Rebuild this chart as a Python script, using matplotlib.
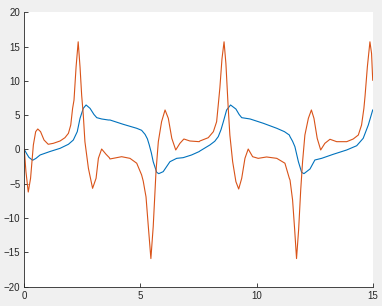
"""
plot.py
-------
Two periodic signals (position in blue, its rate in orange) over t = 0..15,
drawn in the MATLAB default look.
"""

import matplotlib
matplotlib.use("Agg")
import matplotlib.pyplot as plt

# ── Data ───────────────────────────────────────────────────────────────────────
t_blue = [0.0, 0.1, 0.2, 0.36, 0.5, 0.68, 1.1, 1.54, 1.9, 2.11, 2.28, 2.4, 2.54,
          2.66, 2.83, 3.0, 3.12, 3.33, 3.62, 3.69, 4.26, 4.84, 5.05, 5.2, 5.3,
          5.38, 5.47, 5.55, 5.7, 5.79, 5.98, 6.27, 6.56, 6.84, 7.2, 7.53, 7.56,
          7.99, 8.2, 8.35, 8.47, 8.57, 8.71, 8.88, 9.11, 9.25, 9.36, 9.72, 10.29,
          10.87, 11.2, 11.41, 11.44, 11.55, 11.65, 11.8, 11.94, 12.04, 12.3,
          12.51, 12.8, 13.3, 13.88, 14.31, 14.59, 14.81, 15.0]
y_blue = [0.0, -0.6, -1.15, -1.57, -1.3, -0.8, -0.3, 0.17, 0.76, 1.38, 2.6, 4.55,
          6.0, 6.49, 6.0, 5.1, 4.64, 4.45, 4.3, 4.3, 3.67, 3.09, 2.8, 2.2, 1.55,
          0.66, -0.5, -1.78, -3.33, -3.52, -3.23, -1.78, -1.29, -1.19, -0.8, -0.3,
          -0.22, 0.66, 1.2, 1.87, 2.9, 4.05, 5.76, 6.49, 5.9, 5.1, 4.64, 4.45, 3.82,
          3.09, 2.6, 2.11, 1.87, 1.2, 0.41, -1.78, -3.33, -3.52, -2.84, -1.53,
          -1.29, -0.7, -0.07, 0.55, 1.63, 3.57, 5.76]

t_orange = [0.0, 0.07, 0.17, 0.27, 0.39, 0.49, 0.58, 0.7, 0.85, 1.03, 1.25, 1.54,
            1.75, 1.9, 2.0, 2.08, 2.14, 2.23, 2.32, 2.4, 2.47, 2.54, 2.61, 2.76,
            2.94, 3.09, 3.19, 3.33, 3.52, 3.66, 3.69, 4.19, 4.55, 4.84, 5.05, 5.12,
            5.2, 5.24, 5.34, 5.45, 5.55, 5.63, 5.67, 5.77, 5.91, 6.06, 6.2, 6.35,
            6.52, 6.7, 6.87, 7.13, 7.53, 7.56, 7.92, 8.14, 8.28, 8.35, 8.42, 8.51,
            8.6, 8.68, 8.78, 8.85, 8.97, 9.11, 9.23, 9.36, 9.5, 9.64, 9.83, 10.07,
            10.43, 10.87, 11.22, 11.41, 11.44, 11.55, 11.64, 11.72, 11.81, 11.9,
            11.98, 12.08, 12.23, 12.36, 12.47, 12.61, 12.76, 12.94, 13.16, 13.45,
            13.88, 14.16, 14.38, 14.52, 14.62, 14.67, 14.77, 14.88, 14.95, 15.0]
y_orange = [0.0, -3.2, -6.2, -4.2, 0.66, 2.6, 2.99, 2.6, 1.38, 0.76, 0.9, 1.24,
            1.72, 2.36, 3.57, 6.0, 7.2, 12.07, 15.7, 12.0, 7.9, 5.03, 1.14, -2.74,
            -5.66, -4.2, -1.28, 0.07, -0.7, -1.19, -1.38, -1.05, -1.29, -2.0, -3.7,
            -4.6, -6.15, -6.9, -11.25, -15.9, -11.25, -5.9, -3.2, 1.14, 4.05, 5.76,
            4.55, 1.63, -0.07, 0.9, 1.53, 1.24, 1.14, 1.24, 1.72, 2.6, 4.05, 6.49,
            9.0, 13.2, 15.7, 12.5, 6.0, 2.11, -1.78, -4.69, -5.76, -4.2, -1.28, 0.07,
            -1.05, -1.29, -1.09, -1.29, -2.0, -4.2, -4.45, -7.36, -11.7, -15.9,
            -11.7, -5.9, -1.78, 2.11, 4.55, 5.76, 4.55, 1.63, -0.07, 0.9, 1.49,
            1.14, 1.14, 1.53, 2.11, 3.57, 6.0, 7.8, 12.07, 15.7, 14.0, 10.1]

X_TICKS = [0, 5, 10, 15]
Y_TICKS = [-20, -15, -10, -5, 0, 5, 10, 15, 20]

BLUE   = "#0072BD"
ORANGE = "#D95319"
AXIS   = "#262626"


def main():
    plt.rcParams["font.family"] = ["Liberation Sans", "DejaVu Sans"]

    fig = plt.figure(figsize=(3.82, 3.06), dpi=100, facecolor="#f0f0f0")
    ax = fig.add_axes([0.0636, 0.0631, 0.9121, 0.8967])
    ax.set_facecolor("white")

    ax.plot(t_blue, y_blue, color=BLUE, linewidth=0.8)
    ax.plot(t_orange, y_orange, color=ORANGE, linewidth=0.8)

    ax.set_xlim(0, 15)
    ax.set_ylim(-20, 20)
    ax.set_xticks(X_TICKS)
    ax.set_yticks(Y_TICKS)

    for side in ("top", "right"):
        ax.spines[side].set_visible(False)
    for side in ("left", "bottom"):
        ax.spines[side].set_color(AXIS)
        ax.spines[side].set_linewidth(0.6)

    ax.tick_params(direction="in", length=3, width=0.6, color=AXIS,
                   labelcolor=AXIS, labelsize=7, pad=3)

    fig.savefig("out.png", dpi=100, facecolor=fig.get_facecolor())
    plt.close(fig)


if __name__ == "__main__":
    main()
